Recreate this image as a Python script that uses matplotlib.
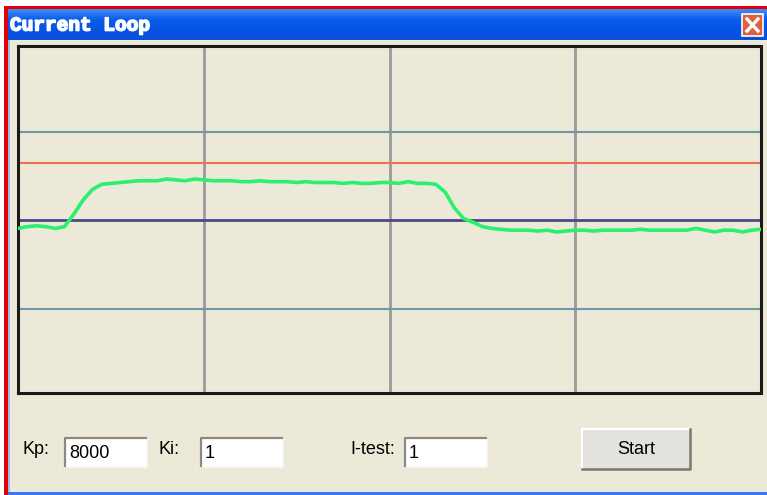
import numpy as np
import matplotlib
matplotlib.use("Agg")
import matplotlib.pyplot as plt
import matplotlib.patheffects as pe
from matplotlib.patches import Rectangle

# sampled loop current (1 grid division = 100), one sample every 5 time units
current = [-9, -7, -6, -7, -9, -7, 7, 23, 35, 41,
           42, 43, 44, 45, 45, 45, 47, 46, 45, 47,
           46, 45, 45, 45, 44, 44, 45, 44, 44, 44,
           43, 44, 43, 43, 43, 42, 43, 42, 42, 43,
           43, 42, 44, 42, 42, 41, 32, 14, 2, -2,
           -7, -9, -10, -11, -11, -11, -12, -11, -13, -12,
           -11, -11, -12, -11, -11, -11, -11, -10, -11, -11,
           -11, -11, -11, -9, -11, -13, -11, -11, -13, -11,
           -10]
t = np.arange(len(current)) * 5

setpoint = 65          # orange reference line
zero_level = 0         # navy centre line
grid_levels = [100, -100]
grid_times = [100, 200, 300]

labels = ["Kp:", "Ki:", "I-test:"]
box_values = ["8000", "1", "1"]

beige = "#ECE9D8"
W, H = 767, 495

fig = plt.figure(figsize=(W / 100, H / 100), dpi=100, facecolor="white")

# window chrome, drawn in pixel coordinates
chrome = fig.add_axes([0, 0, 1, 1])
chrome.set_xlim(0, W)
chrome.set_ylim(H, 0)
chrome.axis("off")

chrome.add_patch(Rectangle((8, 40), W - 8, 452, color=beige, lw=0))
grad = np.linspace(0, 1, 32).reshape(-1, 1)
chrome.imshow(grad, cmap=matplotlib.colors.LinearSegmentedColormap.from_list(
    "xp", ["#3C8CFA", "#0A5CEB", "#0654E4", "#0A4FD8"]),
    extent=(8, W, 40, 9), aspect="auto", zorder=1)
chrome.add_patch(Rectangle((4, 6), W - 4, 3, color="#E00000", lw=0, zorder=3))
chrome.add_patch(Rectangle((4, 6), 4, H - 6, color="#E00000", lw=0, zorder=3))
chrome.add_patch(Rectangle((8, 40), 2, 455, color="#9DBBEE", lw=0, zorder=3))
chrome.add_patch(Rectangle((8, 492), W - 8, 3, color="#3A78F0", lw=0, zorder=3))

chrome.text(10, 26, "Current Loop", color="white", fontsize=14, fontweight="bold",
            family="Liberation Mono", va="center", ha="left", zorder=4,
            path_effects=[pe.withStroke(linewidth=1.2, foreground="white")])

# close button
chrome.add_patch(Rectangle((742, 14), 21, 22, facecolor="#E0603C", edgecolor="white",
                           lw=1.2, zorder=4))
chrome.plot([747, 758], [19, 31], color="white", lw=2.4, zorder=5)
chrome.plot([747, 758], [31, 19], color="white", lw=2.4, zorder=5)

# edit boxes and labels
label_x = [22, 158, 350]
box_x = [64, 200, 404]
for lab, lx, bx, val in zip(labels, label_x, box_x, box_values):
    chrome.text(lx, 449, lab, fontsize=13, family="Liberation Sans",
                va="center", ha="left", color="black", zorder=4)
    chrome.add_patch(Rectangle((bx, 437), 83, 30, facecolor="white",
                               edgecolor="#F4F2EA", lw=1, zorder=3))
    chrome.plot([bx + 1, bx + 1, bx + 82], [466, 438, 438], color="#8C8A80",
                lw=1.6, zorder=4)
    chrome.text(bx + 5, 453, val, fontsize=13, family="Liberation Sans",
                va="center", ha="left", color="black", zorder=5)

# Start button
chrome.add_patch(Rectangle((581, 428), 110, 42, facecolor="#E2E1DD",
                           edgecolor="none", zorder=3))
chrome.plot([582, 582, 690], [469, 429, 429], color="white", lw=1.5, zorder=4)
chrome.plot([582, 690, 690], [469, 469, 429], color="#7A786E", lw=1.8, zorder=4)
chrome.text(636, 449, "Start", fontsize=13, family="Liberation Sans",
            va="center", ha="center", color="black", zorder=5)

# scope area
ax = fig.add_axes([18 / W, (H - 393) / H, (761 - 18) / W, (393 - 46) / H])
ax.set_facecolor(beige)
ax.set_xlim(0, 400)
ax.set_ylim(-195.5, 197.7)
ax.set_xticks([])
ax.set_yticks([])
for s in ax.spines.values():
    s.set_color("#1A1A1A")
    s.set_linewidth(2.2)

for gx in grid_times:
    ax.axvline(gx, color="#9A9A9A", lw=2.0, zorder=1)
for gy in grid_levels:
    ax.axhline(gy, color="#6A9AA6", lw=1.5, zorder=1)
ax.axhline(setpoint, color="#F07050", lw=1.5, zorder=2)
ax.axhline(zero_level, color="#4A4888", lw=2.0, zorder=2)

ax.plot(t, current, color="#2AF06E", lw=2.6, zorder=3)

fig.savefig("out.png", dpi=100, facecolor=fig.get_facecolor())
